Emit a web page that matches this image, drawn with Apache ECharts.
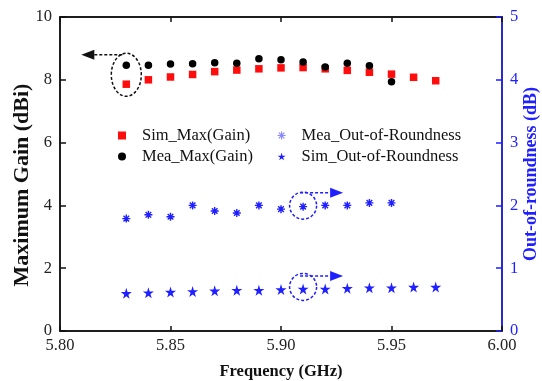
<!DOCTYPE html>
<html>
<head>
<meta charset="utf-8">
<script src="https://cdn.jsdelivr.net/npm/echarts@6/dist/echarts.min.js"></script>
<style>
  html, body { margin: 0; padding: 0; background: #fff; }
  #main { width: 542px; height: 381px; }
</style>
</head>
<body>
<div id="main"></div>
<script>
  // frequency points (GHz)
  var freqSim = [5.83, 5.84, 5.85, 5.86, 5.87, 5.88, 5.89, 5.90, 5.91, 5.92, 5.93, 5.94, 5.95, 5.96, 5.97];
  var freqMea = [5.83, 5.84, 5.85, 5.86, 5.87, 5.88, 5.89, 5.90, 5.91, 5.92, 5.93, 5.94, 5.95];
  // gain (dBi), left axis
  var simGain = [7.86, 8.00, 8.09, 8.17, 8.26, 8.31, 8.35, 8.38, 8.39, 8.35, 8.30, 8.24, 8.18, 8.08, 7.97];
  var meaGain = [8.46, 8.46, 8.50, 8.51, 8.54, 8.53, 8.67, 8.64, 8.57, 8.41, 8.53, 8.45, 7.94];
  // out-of-roundness (dB), right axis
  var meaOOR = [1.79, 1.85, 1.82, 2.00, 1.91, 1.88, 2.00, 1.94, 1.98, 2.00, 2.00, 2.04, 2.04];
  var simOOR = [0.60, 0.61, 0.62, 0.63, 0.64, 0.65, 0.65, 0.66, 0.67, 0.67, 0.68, 0.69, 0.69, 0.70, 0.70];

  var serif = "'Liberation Serif', 'Times New Roman', serif";
  var blue = '#1f1fff';
  var starPath = 'path://M50,0L61,35L98,35L68,57L79,91L50,70L21,91L32,57L2,35L39,35Z';
  var asteriskPath = 'path://M0,5L10,5M5,0L5,10M1.5,1.5L8.5,8.5M1.5,8.5L8.5,1.5';

  function pairs(xs, ys) {
    return xs.map(function (x, i) { return [x, ys[i]]; });
  }

  var legendText = { fontFamily: serif, fontSize: 16.5, color: '#111', padding: [0, 0, 0, 11] };

  var chart = echarts.init(document.getElementById('main'), null, { renderer: 'canvas' });

  var option = {
    animation: false,
    backgroundColor: '#fff',
    textStyle: { fontFamily: serif },
    grid: { left: 60, right: 40, top: 17, bottom: 50, outerBoundsMode: 'none',
      show: true, borderColor: '#111', borderWidth: 1.5, backgroundColor: 'transparent' },
    legend: [
      {
        left: 113, top: 122, orient: 'vertical',
        itemWidth: 8, itemHeight: 8, itemGap: 4,
        textStyle: legendText,
        data: [
          { name: 'Sim_Max(Gain)', icon: 'rect' },
          { name: 'Mea_Max(Gain)', icon: 'circle' }
        ]
      },
      {
        left: 272, top: 122, orient: 'vertical',
        itemWidth: 8, itemHeight: 8, itemGap: 4,
        textStyle: legendText,
        data: [
          { name: 'Mea_Out-of-Roundness', icon: asteriskPath,
            itemStyle: { color: 'transparent', borderColor: '#8a8aff', borderWidth: 1.2 } },
          { name: 'Sim_Out-of-Roundness', icon: starPath }
        ]
      }
    ],
    xAxis: [
      {
        type: 'value', min: 5.8, max: 6.0, interval: 0.05,
        name: 'Frequency (GHz)', nameLocation: 'middle', nameGap: 32,
        nameTextStyle: { fontFamily: serif, fontSize: 16.5, fontWeight: 'bold', color: '#111' },
        axisLine: { onZero: false, lineStyle: { color: '#111', width: 1.5 } },
        axisTick: { inside: true, length: 5, lineStyle: { color: '#111', width: 1.5 } },
        axisLabel: { fontFamily: serif, fontSize: 16.5, color: '#222', margin: 6,
          formatter: function (v) { return v.toFixed(2); } },
        splitLine: { show: false }
      },
      {
        type: 'value', min: 5.8, max: 6.0, interval: 0.05, position: 'top',
        axisLine: { show: true, onZero: false, lineStyle: { color: '#111', width: 1.5 } },
        axisTick: { show: true, inside: true, length: 5, lineStyle: { color: '#111', width: 1.5 } },
        axisLabel: { show: false },
        splitLine: { show: false }
      }
    ],
    yAxis: [
      {
        type: 'value', min: 0, max: 10, interval: 2,
        name: 'Maximum Gain (dBi)', nameLocation: 'middle', nameGap: 27, nameRotate: 90,
        nameMoveOverlap: false,
        nameTextStyle: { fontFamily: serif, fontSize: 22, fontWeight: 'bold', color: '#111',
          padding: [0, 22, 0, 0] },
        axisLine: { show: true, onZero: false, lineStyle: { color: '#111', width: 1.5 } },
        axisTick: { show: true, inside: true, length: 6, lineStyle: { color: '#111', width: 1.5 } },
        axisLabel: { fontFamily: serif, fontSize: 16.5, color: '#222', margin: 8 },
        splitLine: { show: false }
      },
      {
        type: 'value', min: 0, max: 5, interval: 1, position: 'right',
        name: 'Out-of-roundness (dB)', nameLocation: 'middle', nameGap: 20, nameRotate: 90,
        nameMoveOverlap: false,
        nameTextStyle: { fontFamily: serif, fontSize: 18, fontWeight: 'bold', color: blue },
        axisLine: { show: true, onZero: false, lineStyle: { color: blue, width: 1.5 } },
        axisTick: { show: true, inside: true, length: 6, lineStyle: { color: blue, width: 1.5 } },
        axisLabel: { fontFamily: serif, fontSize: 16.5, color: blue, margin: 8 },
        splitLine: { show: false }
      }
    ],
    series: [
      {
        name: 'Sim_Max(Gain)', type: 'scatter', xAxisIndex: 0, yAxisIndex: 0,
        symbol: 'rect', symbolSize: 7.5,
        itemStyle: { color: '#ff0d0d', opacity: 1 },
        data: pairs(freqSim, simGain)
      },
      {
        name: 'Mea_Max(Gain)', type: 'scatter', xAxisIndex: 0, yAxisIndex: 0,
        symbol: 'circle', symbolSize: 7.5,
        itemStyle: { color: '#000', opacity: 1 },
        data: pairs(freqMea, meaGain)
      },
      {
        name: 'Mea_Out-of-Roundness', type: 'scatter', xAxisIndex: 0, yAxisIndex: 1,
        symbol: asteriskPath, symbolSize: 8,
        itemStyle: { color: 'transparent', borderColor: blue, borderWidth: 1.4, opacity: 1 },
        data: pairs(freqMea, meaOOR)
      },
      {
        name: 'Sim_Out-of-Roundness', type: 'scatter', xAxisIndex: 0, yAxisIndex: 1,
        symbol: starPath, symbolSize: 11,
        itemStyle: { color: blue, opacity: 1 },
        data: pairs(freqSim, simOOR)
      },
      // keeps the mirrored top axis alive
      { type: 'scatter', xAxisIndex: 1, yAxisIndex: 0, silent: true, data: [] }
    ]
  };

  chart.setOption(option);

  // dashed call-outs, placed from the data points through the axes
  function px(x, y, yIdx) {
    return chart.convertToPixel({ xAxisIndex: 0, yAxisIndex: yIdx }, [x, y]);
  }
  var dashed = { fill: null, lineWidth: 1.5, lineDash: [3, 2] };

  var g = px(freqMea[0], (simGain[0] + meaGain[0]) / 2, 0);
  var m = px(freqMea[8], meaOOR[8], 1);
  var s = px(freqSim[8], simOOR[8], 1);

  function arrow(x0, y, x1, color) {
    var dir = x1 > x0 ? 1 : -1;
    var base = x1 - dir * 13;
    return [
      { type: 'line', shape: { x1: x0, y1: y, x2: base, y2: y },
        style: Object.assign({ stroke: color }, dashed), z: 10 },
      { type: 'polygon', shape: { points: [[x1, y], [base, y - 5], [base, y + 5]] },
        style: { fill: color }, z: 10 }
    ];
  }

  var elements = [
    { type: 'ellipse', shape: { cx: g[0], cy: g[1], rx: 15, ry: 21.5 },
      style: Object.assign({ stroke: '#111' }, dashed), z: 10 },
    { type: 'circle', shape: { cx: m[0], cy: m[1] - 1, r: 13.5 },
      style: Object.assign({ stroke: blue }, dashed), z: 10 },
    { type: 'circle', shape: { cx: s[0], cy: s[1] - 2, r: 13.5 },
      style: Object.assign({ stroke: blue }, dashed), z: 10 }
  ]
    .concat(arrow(g[0] - 4, g[1] - 20, g[0] - 45, '#111'))
    .concat(arrow(m[0] - 3, m[1] - 14, m[0] + 40, blue))
    .concat(arrow(s[0] - 3, s[1] - 13, s[0] + 40, blue));

  chart.setOption({ graphic: { elements: elements } });
</script>
</body>
</html>
